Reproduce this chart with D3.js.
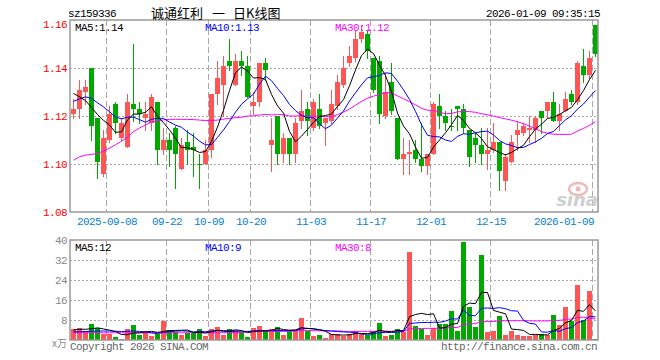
<!DOCTYPE html>
<html><head><meta charset="utf-8">
<script src="https://cdn.jsdelivr.net/npm/d3@7"></script>
<style>body{margin:0;background:#fff}svg{display:block}</style>
</head><body>
<svg id="c" width="660" height="360"></svg>
<script>
// ---------- data ----------
const dates = ["2025-08-29","2025-09-01","2025-09-02","2025-09-03","2025-09-04","2025-09-05",
"2025-09-08","2025-09-09","2025-09-10","2025-09-11","2025-09-12","2025-09-15","2025-09-16","2025-09-17","2025-09-18","2025-09-19",
"2025-09-22","2025-09-23","2025-09-24","2025-09-25","2025-09-26","2025-09-29","2025-09-30",
"2025-10-09","2025-10-10","2025-10-13","2025-10-14","2025-10-15","2025-10-16","2025-10-17",
"2025-10-20","2025-10-21","2025-10-22","2025-10-23","2025-10-24","2025-10-27","2025-10-28","2025-10-29","2025-10-30","2025-10-31",
"2025-11-03","2025-11-04","2025-11-05","2025-11-06","2025-11-07","2025-11-10","2025-11-11","2025-11-12","2025-11-13","2025-11-14",
"2025-11-17","2025-11-18","2025-11-19","2025-11-20","2025-11-21","2025-11-24","2025-11-25","2025-11-26","2025-11-27","2025-11-28",
"2025-12-01","2025-12-02","2025-12-03","2025-12-04","2025-12-05","2025-12-08","2025-12-09","2025-12-10","2025-12-11","2025-12-12",
"2025-12-15","2025-12-16","2025-12-17","2025-12-18","2025-12-19","2025-12-22","2025-12-23","2025-12-24","2025-12-25","2025-12-26",
"2025-12-29","2025-12-30","2025-12-31","2026-01-05","2026-01-06","2026-01-07","2026-01-08","2026-01-09"];

const opens = [1.121,1.123,1.130,1.140,1.119,1.096,1.110,1.125,1.111,1.107,
 1.125,1.123,1.119,1.117,1.126,1.106,1.110,1.115,1.098,1.109,
 1.107,1.100,1.100,1.106,1.129,1.133,1.143,1.133,1.143,1.141,
 1.124,1.126,1.142,1.108,1.120,1.104,1.111,1.104,1.118,1.123,
 1.115,1.123,1.117,1.118,1.124,1.133,1.142,1.144,1.152,1.154,
 1.144,1.143,1.120,1.134,1.119,1.102,1.104,1.106,1.102,1.099,
 1.104,1.124,1.120,1.116,1.124,1.123,1.114,1.111,1.108,1.104,
 1.106,1.109,1.093,1.101,1.112,1.113,1.114,1.114,1.122,1.122,
 1.126,1.118,1.122,1.129,1.126,1.141,1.137,1.158];
const highs = [1.127,1.135,1.135,1.140,1.119,1.114,1.124,1.126,1.119,1.129,
 1.150,1.126,1.126,1.129,1.126,1.115,1.113,1.116,1.111,1.114,
 1.113,1.104,1.110,1.129,1.143,1.145,1.152,1.146,1.147,1.145,
 1.130,1.142,1.144,1.119,1.120,1.113,1.111,1.119,1.131,1.126,
 1.127,1.129,1.119,1.131,1.137,1.145,1.149,1.156,1.158,1.156,
 1.144,1.145,1.138,1.142,1.119,1.111,1.110,1.110,1.117,1.104,
 1.126,1.129,1.122,1.123,1.124,1.125,1.114,1.113,1.115,1.115,
 1.117,1.109,1.104,1.112,1.118,1.117,1.120,1.120,1.122,1.126,
 1.130,1.125,1.130,1.131,1.143,1.148,1.147,1.158];
const lows = [1.119,1.119,1.125,1.110,1.094,1.095,1.109,1.113,1.110,1.107,
 1.118,1.117,1.114,1.114,1.100,1.104,1.099,1.090,1.098,1.100,
 1.095,1.090,1.100,1.103,1.125,1.120,1.139,1.133,1.137,1.128,
 1.121,1.124,1.135,1.097,1.100,1.101,1.100,1.101,1.115,1.112,
 1.114,1.115,1.108,1.117,1.123,1.132,1.141,1.143,1.151,1.144,
 1.130,1.117,1.119,1.121,1.102,1.096,1.096,1.101,1.097,1.096,
 1.104,1.115,1.114,1.114,1.114,1.113,1.099,1.101,1.100,1.098,
 1.105,1.089,1.089,1.101,1.106,1.112,1.109,1.109,1.113,1.119,
 1.118,1.114,1.122,1.125,1.125,1.134,1.136,1.145];
const closes = [1.123,1.131,1.132,1.116,1.101,1.111,1.121,1.117,1.117,1.126,
 1.123,1.121,1.121,1.128,1.106,1.110,1.106,1.104,1.108,1.106,
 1.106,1.100,1.106,1.129,1.136,1.141,1.141,1.143,1.141,1.128,
 1.126,1.142,1.139,1.110,1.104,1.111,1.104,1.117,1.122,1.118,
 1.126,1.116,1.119,1.125,1.134,1.140,1.145,1.152,1.155,1.147,
 1.131,1.121,1.130,1.122,1.102,1.104,1.105,1.102,1.099,1.104,
 1.125,1.120,1.117,1.116,1.123,1.115,1.103,1.108,1.104,1.106,
 1.109,1.097,1.103,1.109,1.114,1.116,1.115,1.119,1.119,1.126,
 1.118,1.121,1.127,1.126,1.142,1.137,1.144,1.146];
// volume, 万手
const volumes = [4.5,4.7,3.8,6.6,4.7,2.3,2.3,1.1,0.6,4.3,
 5.9,2.2,3.1,1.8,2.3,7.5,4.2,3.3,2.2,2.7,
 2.7,4.6,1.8,4.6,5.4,2.2,4.3,3.9,3.1,1.1,
 4.7,5.5,3.5,4.6,5.1,2.2,4.2,4.2,9.0,3.5,
 1.8,2.2,1.0,2.6,2.6,1.5,2.6,3.8,2.6,2.2,
 3.8,7.0,1.5,2.2,4.6,3.3,35.1,5.8,4.5,2.2,
 4.9,6.5,6.6,11.5,3.5,39.2,13.1,5.3,34.2,3.1,
 3.5,9.5,2.2,3.5,2.2,1.8,1.5,2.2,2.6,2.2,
 10.2,6.2,13.2,7.5,22.2,8.2,19.6,0.6];
// moving-average values for days whose window starts before the first bar
const ma5Head = [1.1294,1.1280,1.1264,1.1236];
const ma10Head = [1.1261,1.1271,1.1280,1.1273,1.1255,1.1238,1.1218,1.1196,1.1188];
const ma30Head = [1.1016,1.1030,1.1037,1.1040,1.1044,1.1054,1.1066,1.1080,1.1095,1.1112,
 1.1135,1.1150,1.1163,1.1174,1.1180,1.1184,1.1186,1.1186,1.1186,1.1186,
 1.1185,1.1183,1.1181,1.1181,1.1183,1.1187,1.1190,1.1193,1.1195];
const volMa5Head = [4.0,4.3,4.3,4.5];
const volMa10Head = [3.3,3.3,3.4,3.5,3.6,3.6,3.6,3.5,3.4];
const volMa30Head = [2.9,2.9,2.9,2.9,2.9,2.9,2.9,2.9,2.9,2.9,2.9,2.9,2.9,2.9,2.9,
 2.9,2.9,2.9,2.9,2.9,2.9,2.9,2.9,2.9,2.9,2.9,2.9,2.9,2.9];

const priceTicks = [1.16,1.14,1.12,1.10,1.08];
const volTicks = [40,32,24,16,8];
const dateTicks = ["2025-09-08","2025-09-22","2025-10-09","2025-10-20","2025-11-03","2025-11-17","2025-12-01","2025-12-15","2026-01-09"];
const dateTickLabels = ["2025-09-08","09-22","10-09","10-20","11-03","11-17","12-01","12-15","2026-01-09"];
const legendPrice = [["MA5:1.14","#000000"],["MA10:1.13","#0000ff"],["MA30:1.12","#ff00ff"]];
const legendVol = [["MA5:12","#000000"],["MA10:9","#0000ff"],["MA30:8","#ff00ff"]];
const titleParts = ["诚通红利","一","日K线图"];

// ---------- helpers ----------
function movingAvg(vals, k, head){
  return vals.map((v,i)=> i < k-1 ? head[i] : d3.mean(vals.slice(i-k+1,i+1)));
}
const ma5 = movingAvg(closes,5,ma5Head), ma10 = movingAvg(closes,10,ma10Head), ma30 = movingAvg(closes,30,ma30Head);
const vma5 = movingAvg(volumes,5,volMa5Head), vma10 = movingAvg(volumes,10,volMa10Head), vma30 = movingAvg(volumes,30,volMa30Head);

const RED="#ff5555", GREEN="#00a800", GRID="#a8a8a8", FRAME="#999999";
const MONO="'Liberation Mono','DejaVu Sans Mono',monospace";
const CJK="'Noto Sans CJK SC',sans-serif";

const svg = d3.select("#c");
const n = closes.length;
const L=70, R=598, pT=20, pB=212, vT=240, vB=340;
const x = d3.scaleBand().domain(d3.range(n)).range([71,598]).paddingInner(1/6).paddingOuter(0);
const y = d3.scaleLinear().domain([1.08,1.16]).range([pB,pT]);
const yv = d3.scaleLinear().domain([0,40]).range([vB,vT]);
const cx = i => x(i)+2.5;
const up = i => closes[i] > opens[i] || (closes[i]===opens[i] && (i===0 || closes[i] >= closes[i-1]));

function txt(g, s, xx, yy, col, anchor, size, font, ls){
  return g.append("text").attr("x",xx).attr("y",yy).attr("fill",col)
    .attr("text-anchor",anchor||"start").attr("font-family",font||MONO)
    .attr("font-size",size||11).attr("letter-spacing",ls===undefined?-0.6:ls).text(s);
}

// ---------- grid ----------
const grid = svg.append("g");
priceTicks.slice(1,-1).forEach(t=>{
  grid.append("line").attr("x1",L).attr("x2",R).attr("y1",Math.round(y(t))+0.5).attr("y2",Math.round(y(t))+0.5)
    .attr("stroke",GRID).attr("stroke-dasharray","2,2");
});
volTicks.slice(1).forEach(t=>{
  grid.append("line").attr("x1",L).attr("x2",R).attr("y1",Math.round(yv(t))+0.5).attr("y2",Math.round(yv(t))+0.5)
    .attr("stroke",GRID).attr("stroke-dasharray","2,2");
});
dateTicks.forEach(d=>{
  const i = dates.indexOf(d), xx = x(i)-0.5;
  grid.append("line").attr("x1",xx).attr("x2",xx).attr("y1",pT).attr("y2",pB).attr("stroke",GRID).attr("stroke-dasharray","6,3");
  grid.append("line").attr("x1",xx).attr("x2",xx).attr("y1",vT).attr("y2",vB).attr("stroke",GRID).attr("stroke-dasharray","6,3");
});

// ---------- watermark ----------
const wm = svg.append("g");
wm.append("ellipse").attr("cx",578).attr("cy",189).attr("rx",9).attr("ry",6).attr("fill","none").attr("stroke","#f2b8b8").attr("stroke-width",2.5);
wm.append("circle").attr("cx",578).attr("cy",189).attr("r",2.5).attr("fill","#f2b8b8");
txt(wm,"sina",598,206,"#cfcfcf","end",18,"'DejaVu Sans',sans-serif",0).attr("font-style","italic").attr("font-weight","bold");

// ---------- candles ----------
const cg = svg.append("g");
d3.range(n).forEach(i=>{
  const col = up(i)?RED:GREEN;
  cg.append("line").attr("x1",cx(i)).attr("x2",cx(i)).attr("y1",Math.round(y(highs[i]))).attr("y2",Math.round(y(lows[i]))+1)
    .attr("stroke",col).attr("stroke-width",1);
  const t = Math.round(y(Math.max(opens[i],closes[i]))), b = Math.round(y(Math.min(opens[i],closes[i])));
  cg.append("rect").attr("x",x(i)).attr("y",t).attr("width",x.bandwidth()).attr("height",Math.max(1,b-t)).attr("fill",col);
});
const line = d3.line().x((d,i)=>cx(i)).y(d=>y(d));
[[ma30,"#ff00ff"],[ma10,"#0000ff"],[ma5,"#000000"]].forEach(([s,c])=>{
  svg.append("path").attr("d",line(s)).attr("fill","none").attr("stroke",c).attr("stroke-width",1);
});

// ---------- volume ----------
const vg = svg.append("g");
d3.range(n).forEach(i=>{
  const t = Math.round(yv(volumes[i]));
  vg.append("rect").attr("x",x(i)).attr("y",t).attr("width",x.bandwidth()).attr("height",Math.max(1,vB-t)).attr("fill",up(i)?RED:GREEN);
});
const vline = d3.line().x((d,i)=>cx(i)).y(d=>yv(d));
[[vma30,"#ff00ff"],[vma10,"#0000ff"],[vma5,"#000000"]].forEach(([s,c])=>{
  svg.append("path").attr("d",vline(s)).attr("fill","none").attr("stroke",c).attr("stroke-width",1);
});

// ---------- frames ----------
svg.append("rect").attr("x",L).attr("y",pT).attr("width",R-L).attr("height",pB-pT).attr("fill","none").attr("stroke",FRAME).attr("stroke-width",1.5);
svg.append("rect").attr("x",L).attr("y",vT).attr("width",R-L).attr("height",vB-vT).attr("fill","none").attr("stroke",FRAME).attr("stroke-width",1.5);

// ---------- texts ----------
const tg = svg.append("g");
txt(tg,"sz159336",68,17,"#000");
const titleX = [151,212,233];
titleParts.forEach((s,k)=>txt(tg,s,titleX[k],18,"#000","start",13,CJK,0));
txt(tg,"2026-01-09 09:35:15",600,17,"#000","end");
priceTicks.forEach((t,k)=>{
  const yy = k===0 ? 28 : y(t)+4;
  txt(tg,d3.format(".2f")(t),67,yy,"#ff0000","end");
});
volTicks.forEach((t,k)=>{
  txt(tg,String(t),67,yv(t)+4,"#888888","end");
});
txt(tg,"x万",67,347,"#888888","end",10,CJK,0);
dateTicks.forEach((d,k)=>{
  const i = dates.indexOf(d);
  const last = k===dateTicks.length-1;
  txt(tg,dateTickLabels[k], last?594:x(i), 225, "#0a7fd0", last?"end":"middle");
});
const legX = [75,205,335];
legendPrice.forEach(([s,c],k)=>txt(tg,s,legX[k],31,c));
legendVol.forEach(([s,c],k)=>txt(tg,s,legX[k],251,c));
txt(tg,"Copyright 2026 SINA.COM",70,350,"#666666");
txt(tg,"http://finance.sina.com.cn",597,350,"#666666","end");
</script>
</body></html>
